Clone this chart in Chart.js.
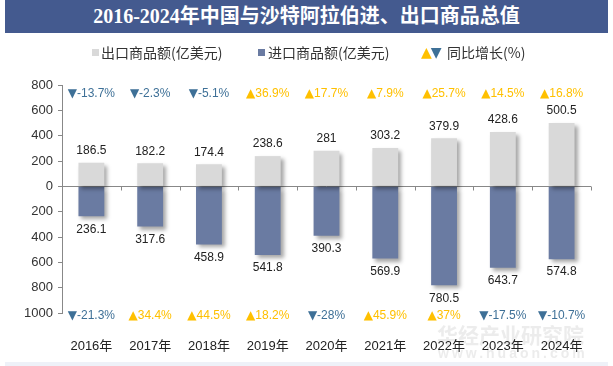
<!DOCTYPE html>
<html><head><meta charset="utf-8">
<script src="https://cdn.jsdelivr.net/npm/chart.js@4"></script>
<style>
html,body{margin:0;padding:0;background:#fff;width:613px;height:366px;overflow:hidden;}
#wrap{position:relative;width:613px;height:366px;}
#title{position:absolute;left:5px;top:0;width:603px;height:33px;background:#445A8F;color:#fff;font:bold 20px "Liberation Serif","Noto Sans CJK SC",serif;text-align:center;line-height:33px;z-index:2;}
canvas{position:absolute;left:0;top:0;}
.lg{position:absolute;top:44px;font:14px "Noto Sans CJK SC",sans-serif;color:#333;line-height:16px;white-space:nowrap;z-index:2;}
.sq{position:absolute;top:49px;width:7px;height:7px;z-index:2;}
#band{position:absolute;left:5px;top:362px;width:603px;height:4px;background:#eef1f8;}
</style></head>
<body><div id="wrap">
<div id="title">2016-2024年中国与沙特阿拉伯进、出口商品总值</div>
<div class="sq" style="left:92px;background:#D9D9D9"></div>
<div class="lg" style="left:101px">出口商品额(亿美元)</div>
<div class="sq" style="left:258px;background:#6A7BA2"></div>
<div class="lg" style="left:268px">进口商品额(亿美元)</div>
<div class="lg" style="left:421px;font-family:'DejaVu Sans';font-size:14px;top:44px;letter-spacing:-1px"><span style="color:#FFC000">▲</span><span style="color:#3E7097">▼</span></div>
<div class="lg" style="left:447px">同比增长(%)</div>
<div id="band"></div>
<canvas id="c" width="613" height="366"></canvas>
</div>
<script>
const years = ['2016年','2017年','2018年','2019年','2020年','2021年','2022年','2023年','2024年'];
const exportVals = [186.5,182.2,174.4,238.6,281,303.2,379.9,428.6,500.5];
const importVals = [236.1,317.6,458.9,541.8,390.3,569.9,780.5,643.7,574.8];
const exportGrowth = [-13.7,-2.3,-5.1,36.9,17.7,7.9,25.7,14.5,16.8];
const importGrowth = [-21.3,34.4,44.5,18.2,-28,45.9,37,-17.5,-10.7];

const UP = '#FFC000', DOWN = '#3E7097';
const numFont = '12px "Liberation Sans", Arial, sans-serif';
const triFont = '12px "DejaVu Sans", sans-serif';

function drawGrowth(ctx, v, cx, cy) {
  const tri = v >= 0 ? '▲' : '▼';
  const txt = v + '%';
  ctx.font = triFont;
  const tw = ctx.measureText(tri).width;
  ctx.font = numFont;
  const nw = ctx.measureText(txt).width;
  const x0 = cx - (tw + nw) / 2;
  ctx.fillStyle = v >= 0 ? UP : DOWN;
  ctx.textAlign = 'left';
  ctx.font = triFont;
  ctx.fillText(tri, x0, cy);
  ctx.font = numFont;
  ctx.fillText(txt, x0 + tw, cy);
}

const decor = {
  id: 'decor',
  beforeDraw(chart) {
    const ctx = chart.ctx;
    ctx.save();
    ctx.fillStyle = 'rgba(200,200,200,0.35)';
    ctx.font = 'bold 21px "Noto Sans CJK SC", sans-serif';
    ctx.textBaseline = 'middle';
    ctx.textAlign = 'left';
    ctx.fillText('华经产业研究院', 437, 335);
    ctx.font = 'bold 14px "Liberation Sans", Arial, sans-serif';
    ctx.letterSpacing = '3px';
    ctx.fillText('www.huaon.com', 438, 354);
    ctx.restore();
  },
  beforeDatasetsDraw(chart) {
    const ctx = chart.ctx, y = chart.scales.y, a = chart.chartArea;
    const y0 = Math.round(y.getPixelForValue(0)) + 0.5;
    ctx.save();
    ctx.strokeStyle = '#888';
    ctx.lineWidth = 1;
    ctx.beginPath();
    ctx.moveTo(a.left, y0); ctx.lineTo(a.right, y0);
    const n = years.length;
    for (let i = 1; i <= n; i++) {
      const bx = Math.round(a.left + (a.right - a.left) * i / n) + 0.5;
      ctx.moveTo(bx, y0); ctx.lineTo(bx, y0 + 4);
    }
    ctx.stroke();
    ctx.restore();
    ctx.save();
    ctx.shadowColor = 'rgba(0,0,0,0.35)';
    ctx.shadowOffsetX = 3;
    ctx.shadowOffsetY = 3;
    ctx.shadowBlur = 4;
  },
  afterDatasetsDraw(chart) {
    const ctx = chart.ctx;
    ctx.restore();
    const a = chart.chartArea;
    ctx.save();
    ctx.font = numFont;
    ctx.textAlign = 'center';
    ctx.textBaseline = 'middle';
    ctx.fillStyle = '#222';
    const m0 = chart.getDatasetMeta(0), m1 = chart.getDatasetMeta(1);
    m0.data.forEach((el, i) => { ctx.fillText(String(exportVals[i]), el.x, el.y - 12); });
    m1.data.forEach((el, i) => { ctx.fillText(String(importVals[i]), el.x, el.y + 13); });
    m0.data.forEach((el, i) => drawGrowth(ctx, exportGrowth[i], el.x, a.top + 9));
    m1.data.forEach((el, i) => drawGrowth(ctx, importGrowth[i], el.x, a.bottom + 3));
    ctx.restore();
  }
};

new Chart(document.getElementById('c'), {
  type: 'bar',
  data: {
    labels: years,
    datasets: [
      { label: '出口商品额(亿美元)', data: exportVals, backgroundColor: '#D9D9D9' },
      { label: '进口商品额(亿美元)', data: importVals.map(v => -v), backgroundColor: '#6A7BA2' }
    ]
  },
  options: {
    responsive: false,
    animation: false,
    devicePixelRatio: 1,
    layout: { padding: { top: 85, right: 22, left: 0, bottom: 0 } },
    datasets: { bar: { categoryPercentage: 1, barPercentage: 0.44 } },
    plugins: { legend: { display: false }, title: { display: false }, tooltip: { enabled: false } },
    scales: {
      x: {
        stacked: true,
        grid: { display: false, drawTicks: false },
        border: { display: false },
        ticks: { padding: 26, color: '#222', font: { size: 13, family: '"Liberation Sans","Noto Sans CJK SC",sans-serif' } },
        afterFit: s => { s.height = 53; }
      },
      y: {
        stacked: true,
        min: -1000, max: 800,
        ticks: { stepSize: 200, padding: 5, color: '#333', font: { size: 13, family: '"Liberation Sans",Arial,sans-serif' }, callback: v => Math.abs(v) },
        grid: { drawOnChartArea: false, tickLength: 4, color: '#888' },
        border: { color: '#888' },
        afterFit: s => { s.width = 62; }
      }
    }
  },
  plugins: [decor]
});
</script>
</body></html>
